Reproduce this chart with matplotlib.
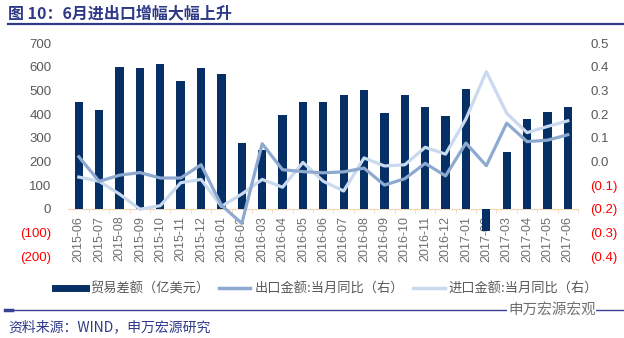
import matplotlib
matplotlib.use("Agg")
import matplotlib.pyplot as plt
from matplotlib.lines import Line2D
import numpy as np

plt.rcParams['font.family'] = ['Liberation Sans', 'Noto Sans CJK SC', 'DejaVu Sans']

months = ["2015-06", "2015-07", "2015-08", "2015-09", "2015-10", "2015-11", "2015-12",
          "2016-01", "2016-02", "2016-03", "2016-04", "2016-05", "2016-06", "2016-07",
          "2016-08", "2016-09", "2016-10", "2016-11", "2016-12", "2017-01", "2017-02",
          "2017-03", "2017-04", "2017-05", "2017-06"]
# 贸易差额（亿美元）
trade_balance = [453, 418, 598, 597, 614, 540, 597, 571, 279, 250, 398, 450, 453,
                 482, 502, 405, 482, 432, 394, 506, -95, 239, 380, 408, 429]
# 出口金额:当月同比
export_yoy = [0.02, -0.084, -0.058, -0.047, -0.07, -0.07, -0.014, -0.185, -0.262, 0.075,
              -0.035, -0.043, -0.048, -0.044, -0.028, -0.10, -0.073, -0.008, -0.061,
              0.078, -0.018, 0.162, 0.084, 0.09, 0.113]
# 进口金额:当月同比
import_yoy = [-0.066, -0.084, -0.138, -0.202, -0.187, -0.09, -0.076, -0.19, -0.138, -0.076,
              -0.109, -0.004, -0.084, -0.125, 0.015, -0.019, -0.014, 0.06, 0.031,
              0.18, 0.38, 0.204, 0.122, 0.148, 0.172]

left_ticks = [-200, -100, 0, 100, 200, 300, 400, 500, 600, 700]
right_ticks = [-0.4, -0.3, -0.2, -0.1, 0.0, 0.1, 0.2, 0.3, 0.4, 0.5]

navy = "#062F66"
c_exp = "#8EA9D0"
c_imp = "#C9D9EE"
gray = "#595959"
red = "#FF0000"
title_c = "#2E3A87"

fig = plt.figure(figsize=(6.24, 3.38), dpi=100)
ax = fig.add_axes([68 / 624, 1 - 256 / 338, 510 / 624, (256 - 43.3) / 338])

x = np.arange(len(months))
ax.bar(x, trade_balance, width=0.41, color=navy, zorder=3)
ax.set_xlim(-0.53, len(months) - 0.53)
ax.set_ylim(-200, 700)

for s in ["top", "left", "right"]:
    ax.spines[s].set_visible(False)
ax.spines["bottom"].set_position(("data", 0))
ax.spines["bottom"].set_color("#F1D6BA")
ax.spines["bottom"].set_linewidth(0.8)

ax.set_xticks(x)
ax.set_xticklabels(months, rotation=90, fontsize=9, color="#6E6E6E", va="top", ha="center")
ax.set_xticks(x + 0.5, minor=True)
ax.tick_params(axis="x", which="major", length=0, pad=5)
ax.tick_params(axis="x", which="minor", length=3, color="#F1D6BA")

ax.set_yticks(left_ticks)
ax.set_yticklabels([f"({-v})" if v < 0 else str(v) for v in left_ticks], fontsize=9.5)
for lab, v in zip(ax.get_yticklabels(), left_ticks):
    lab.set_color(red if v < 0 else gray)
ax.tick_params(axis="y", length=0, pad=12)

ax2 = ax.twinx()
ax2.plot(x, export_yoy, color=c_exp, lw=2.3, zorder=3)
ax2.plot(x, import_yoy, color=c_imp, lw=2.3, zorder=2)
ax2.set_ylim(-0.4, 0.5)
for s in ax2.spines.values():
    s.set_visible(False)
ax2.set_yticks(right_ticks)
ax2.set_yticklabels([f"({-v:.1f})" if v < -1e-9 else f"{v:.1f}" for v in right_ticks], fontsize=9.5)
for lab, v in zip(ax2.get_yticklabels(), right_ticks):
    lab.set_color(red if v < -1e-9 else gray)
ax2.tick_params(axis="y", length=0, pad=9)

handles = [Line2D([], [], color=navy, lw=5),
           Line2D([], [], color=c_exp, lw=2.5),
           Line2D([], [], color=c_imp, lw=2.5)]
labels = ["贸易差额（亿美元）", "出口金额:当月同比（右）", "进口金额:当月同比（右）"]
leg = fig.legend(handles, labels, loc="center", bbox_to_anchor=(0.523, 1 - 289 / 338),
                 ncol=3, frameon=False, handlelength=2.4, handletextpad=0.3,
                 columnspacing=0.7, prop={"family": "Noto Sans CJK SC", "size": 9.5})
for t in leg.get_texts():
    t.set_color(gray)

# title and rules
fig.text(8 / 624, 1 - 13 / 338, "图 10：6月进出口增幅大幅上升", fontsize=11.5, fontweight="bold",
         color=title_c, va="center", ha="left", family=["Noto Sans CJK SC", "DejaVu Sans"])
fig.add_artist(Line2D([8 / 624, 1], [1 - 24 / 338] * 2, color=title_c, lw=1.6))
fig.add_artist(Line2D([5 / 624, 1], [1 - 310 / 338] * 2, color="#3B3F8F", lw=1.0))
fig.add_artist(Line2D([5 / 624, 12 / 624], [1 - 309.5 / 338] * 2, color="#3B3F8F", lw=2.5))
fig.text(508 / 624, 1 - 310 / 338, "申万宏源宏观", fontsize=10.5, color="#707070",
         va="center", ha="left", family=["Noto Sans CJK SC"],
         bbox=dict(facecolor="white", edgecolor="none", pad=0.5))
fig.text(8 / 624, 1 - 327 / 338, "资料来源：WIND，申万宏源研究", fontsize=10, color=title_c,
         va="center", ha="left", family=["Noto Sans CJK SC", "DejaVu Sans"])

fig.savefig("out.png", dpi=100)
